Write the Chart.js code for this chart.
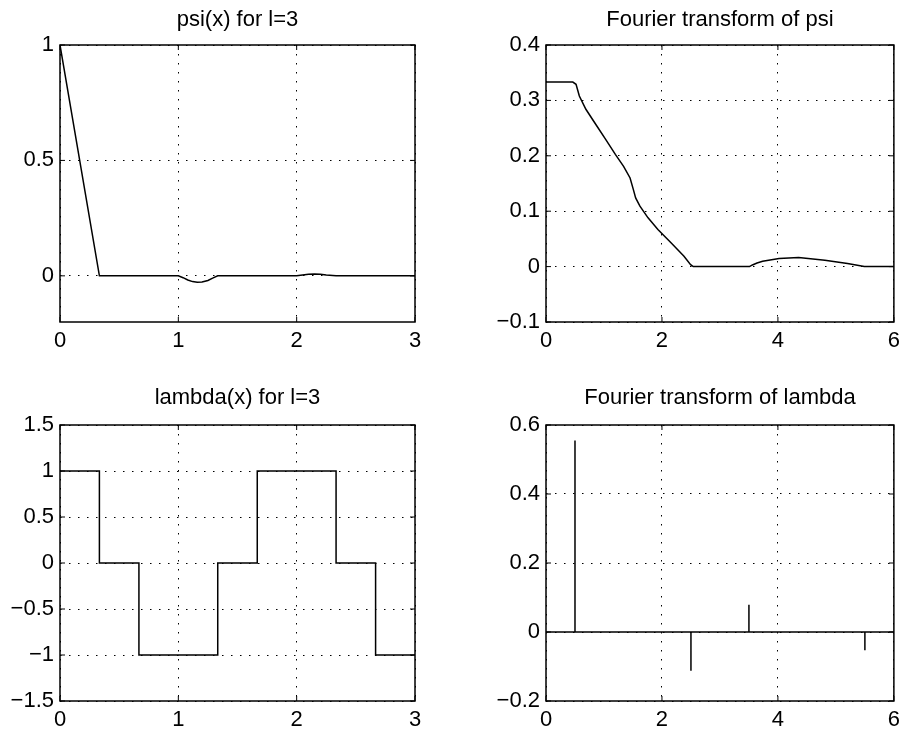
<!DOCTYPE html>
<html>
<head>
<meta charset="utf-8">
<script src="https://cdn.jsdelivr.net/npm/chart.js@4/dist/chart.umd.min.js"></script>
<style>
  html, body { margin: 0; padding: 0; background: #fff; overflow: hidden; }
  #wrap { position: relative; width: 906px; height: 730px; overflow: hidden; }
  canvas { position: absolute; }
</style>
</head>
<body>
<div id="wrap">
  <canvas id="psiChart" width="453" height="365" style="left:0;top:0"></canvas>
  <canvas id="ftPsiChart" width="453" height="365" style="left:453px;top:0"></canvas>
  <canvas id="lambdaChart" width="453" height="365" style="left:0;top:380px"></canvas>
  <canvas id="ftLambdaChart" width="453" height="365" style="left:453px;top:380px"></canvas>
</div>
<script>
// psi(x) for l=3
const psiX = [0, 0.333, 1.0, 1.04, 1.08, 1.12, 1.16, 1.2, 1.25, 1.29, 1.333, 2.0, 2.05, 2.1, 2.15, 2.2, 2.25, 2.333, 3];
const psiY = [1, 0, 0, -0.008, -0.018, -0.025, -0.028, -0.027, -0.02, -0.01, 0, 0, 0.004, 0.007, 0.008, 0.007, 0.004, 0, 0];
const psiXTicks = [0, 1, 2, 3];
const psiYTicks = [0, 0.5, 1];

// Fourier transform of psi
const ftPsiX = [0, 0.462, 0.518, 0.575, 0.688, 0.857, 1.026, 1.196, 1.338, 1.45, 1.507, 1.546, 1.62, 1.76, 1.93, 2.156, 2.38, 2.494, 2.54, 3.51, 3.56, 3.64, 3.736, 4.02, 4.357, 4.81, 5.2, 5.49, 6];
const ftPsiY = [0.333, 0.333, 0.329, 0.308, 0.284, 0.257, 0.23, 0.2025, 0.181, 0.16, 0.139, 0.124, 0.109, 0.088, 0.067, 0.043, 0.0187, 0.0036, 0, 0, 0.003, 0.0066, 0.0096, 0.0145, 0.0165, 0.0114, 0.0054, 0, 0];
const ftPsiXTicks = [0, 2, 4, 6];
const ftPsiYTicks = [-0.1, 0, 0.1, 0.2, 0.3, 0.4];

// lambda(x) for l=3 (level held from each breakpoint to the next)
const lambdaX = [0, 0.333, 0.667, 1.333, 1.667, 2.333, 2.667, 3];
const lambdaY = [1, 0, -1, 0, 1, 0, -1, -1];
const lambdaXTicks = [0, 1, 2, 3];
const lambdaYTicks = [-1.5, -1, -0.5, 0, 0.5, 1, 1.5];

// Fourier transform of lambda (stems)
const stemX = [0.5, 2.5, 3.5, 5.5];
const stemY = [0.555, -0.112, 0.079, -0.053];
const ftLambdaXTicks = [0, 2, 4, 6];
const ftLambdaYTicks = [-0.2, 0, 0.2, 0.4, 0.6];

const FONT = "'Liberation Sans', Arial, Helvetica, sans-serif";

// box round the plot area with inward tick marks
const boxPlugin = {
  id: 'box',
  afterDraw(chart) {
    const { ctx, chartArea: a, scales } = chart;
    ctx.save();
    ctx.strokeStyle = '#000';
    ctx.lineWidth = 1.5;
    ctx.strokeRect(a.left, a.top, a.right - a.left, a.bottom - a.top);
    ctx.lineWidth = 1;
    ctx.beginPath();
    scales.x.ticks.forEach(t => {
      const px = scales.x.getPixelForValue(t.value);
      ctx.moveTo(px, a.bottom); ctx.lineTo(px, a.bottom - 5);
      ctx.moveTo(px, a.top); ctx.lineTo(px, a.top + 5);
    });
    scales.y.ticks.forEach(t => {
      const py = scales.y.getPixelForValue(t.value);
      ctx.moveTo(a.left, py); ctx.lineTo(a.left + 5, py);
      ctx.moveTo(a.right, py); ctx.lineTo(a.right - 5, py);
    });
    ctx.stroke();
    ctx.restore();
  }
};

const fmt = v => String(v).replace('-', '\u2212');

function makeChart(id, title, points, xTicks, yTicks, opts) {
  const xMin = xTicks[0], xMax = xTicks[xTicks.length - 1];
  return new Chart(document.getElementById(id), {
    type: 'line',
    data: {
      datasets: [{
        data: points,
        borderColor: '#000',
        borderWidth: 1.5,
        pointRadius: 0,
        tension: 0,
        stepped: opts.stepped || false,
        fill: false
      }]
    },
    options: {
      responsive: false,
      animation: false,
      devicePixelRatio: 1,
      layout: { padding: { left: 0, right: opts.padRight, top: 0, bottom: 0 } },
      plugins: {
        legend: { display: false },
        tooltip: { enabled: false },
        title: {
          display: true,
          fullSize: false,
          text: title,
          color: '#000',
          font: { family: FONT, size: 22, weight: 'normal' },
          padding: { top: opts.titleTop, bottom: 45 - opts.titleTop - 26.4 }
        }
      },
      scales: {
        x: {
          type: 'linear',
          min: xMin, max: xMax,
          afterBuildTicks: s => { s.ticks = xTicks.map(v => ({ value: v })); },
          afterFit: s => { s.height = opts.xHeight; },
          grid: { color: '#000', lineWidth: 1, drawTicks: false },
          border: { display: false, dash: [1.5, 7.5] },
          ticks: { color: '#000', font: { family: FONT, size: 22 }, padding: 6, maxRotation: 0, callback: fmt }
        },
        y: {
          type: 'linear',
          min: opts.yMin, max: opts.yMax,
          afterBuildTicks: s => { s.ticks = yTicks.map(v => ({ value: v })); },
          afterFit: s => { s.width = opts.yWidth; },
          grid: { color: '#000', lineWidth: 1, drawTicks: false },
          border: { display: false, dash: [1.5, 7.5] },
          ticks: { color: '#000', font: { family: FONT, size: 22 }, padding: 6, callback: fmt }
        }
      }
    },
    plugins: [boxPlugin]
  });
}

const toPoints = (xs, ys) => xs.map((x, i) => ({ x: x, y: ys[i] }));

// stems drawn as one path along the zero line
const stemPoints = [{ x: 0, y: 0 }];
stemX.forEach((x, i) => {
  stemPoints.push({ x: x, y: 0 }, { x: x, y: stemY[i] }, { x: x, y: 0 });
});
stemPoints.push({ x: 6, y: 0 });

makeChart('psiChart', 'psi(x) for l=3', toPoints(psiX, psiY), psiXTicks, psiYTicks,
  { yMin: -0.2, yMax: 1, yWidth: 60, padRight: 38, xHeight: 43, titleTop: 7 });
makeChart('ftPsiChart', 'Fourier transform of psi', toPoints(ftPsiX, ftPsiY), ftPsiXTicks, ftPsiYTicks,
  { yMin: -0.1, yMax: 0.4, yWidth: 93, padRight: 6, xHeight: 43, titleTop: 7 });
makeChart('lambdaChart', 'lambda(x) for l=3', toPoints(lambdaX, lambdaY), lambdaXTicks, lambdaYTicks,
  { yMin: -1.5, yMax: 1.5, yWidth: 60, padRight: 38, xHeight: 44, titleTop: 5, stepped: 'before' });
makeChart('ftLambdaChart', 'Fourier transform of lambda', stemPoints, ftLambdaXTicks, ftLambdaYTicks,
  { yMin: -0.2, yMax: 0.6, yWidth: 93, padRight: 6, xHeight: 44, titleTop: 5 });
</script>
</body>
</html>
